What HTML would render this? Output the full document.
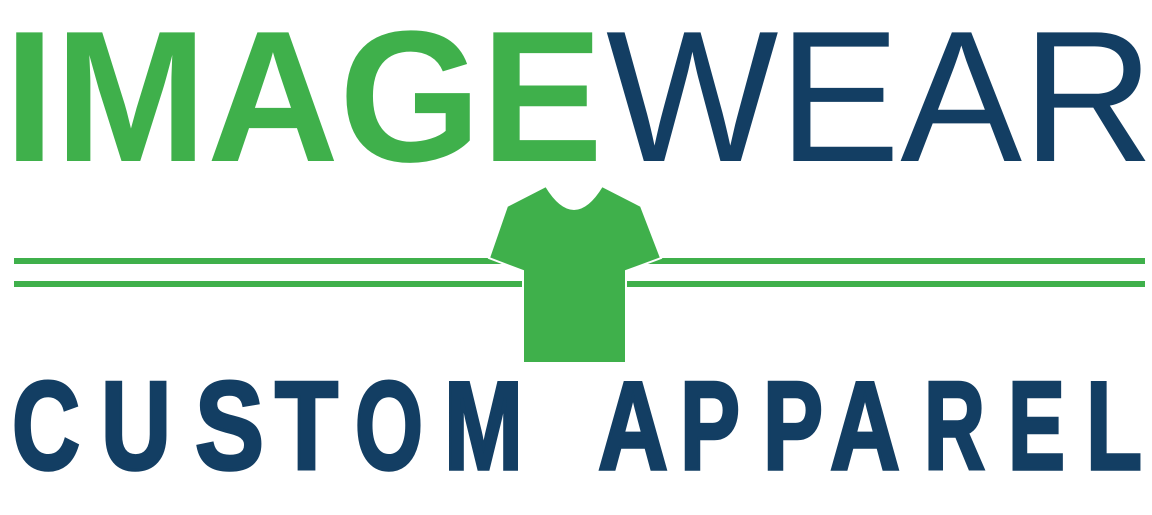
<!DOCTYPE html>
<html><head><meta charset="utf-8"><style>
html,body{margin:0;padding:0;background:#fff;width:1152px;height:515px;overflow:hidden}
svg{display:block}
text{font-family:"Liberation Sans",sans-serif}
</style></head><body>
<svg width="1152" height="515" viewBox="0 0 1152 515">
 <g font-size="187">
  <text fill="#3FB04B" font-weight="bold" x="4" y="161" textLength="599" lengthAdjust="spacingAndGlyphs">IMAGE</text>
  <text fill="#133E63" x="606" y="161" textLength="548" lengthAdjust="spacingAndGlyphs">WEAR</text>
 </g>
 <g fill="#3FB04B">
  <rect x="14" y="258" width="1131" height="6"/>
  <rect x="14" y="281" width="1131" height="6"/>
 </g>
 <path fill="#3FB04B" stroke="#fff" stroke-width="2"
  d="M546,186 Q560,209 574,209 Q588,209 602,186 L641,206 L661,258 L626,271 L626,363 L523,363 L523,271 L489,258 L507,206 Z"/>
 <g fill="#133E63" stroke="#133E63" stroke-width="3.5" stroke-linejoin="miter" font-weight="bold" font-size="125">
  <text x="12" y="469" textLength="68" lengthAdjust="spacingAndGlyphs">C</text>
  <text x="101" y="469" textLength="70" lengthAdjust="spacingAndGlyphs">U</text>
  <text x="195" y="469" textLength="69" lengthAdjust="spacingAndGlyphs">S</text>
  <text x="275" y="469" textLength="63" lengthAdjust="spacingAndGlyphs">T</text>
  <text x="355" y="469" textLength="68" lengthAdjust="spacingAndGlyphs">O</text>
  <text x="444" y="469" textLength="79" lengthAdjust="spacingAndGlyphs">M</text>
  <text x="598" y="469" textLength="70" lengthAdjust="spacingAndGlyphs">A</text>
  <text x="680" y="469" textLength="60" lengthAdjust="spacingAndGlyphs">P</text>
  <text x="763" y="469" textLength="60" lengthAdjust="spacingAndGlyphs">P</text>
  <text x="830" y="469" textLength="70" lengthAdjust="spacingAndGlyphs">A</text>
  <text x="924" y="469" textLength="61" lengthAdjust="spacingAndGlyphs">R</text>
  <text x="1008" y="469" textLength="57" lengthAdjust="spacingAndGlyphs">E</text>
  <text x="1086" y="469" textLength="56" lengthAdjust="spacingAndGlyphs">L</text>
 </g>
</svg>
</body></html>
